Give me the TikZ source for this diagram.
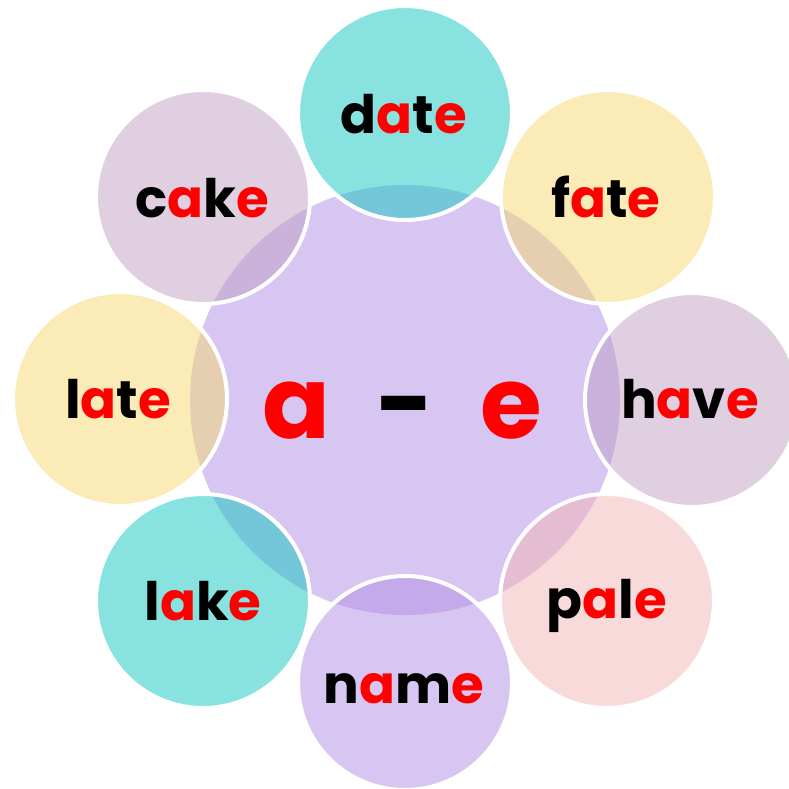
\documentclass[tikz,border=0pt]{standalone}
\usepackage{fontspec}
\setmainfont{Poppins}
\definecolor{cpurple}{RGB}{216,198,242}
\definecolor{cteal}{RGB}{17,199,193}
\definecolor{cyellow}{RGB}{245,215,111}
\definecolor{cmauve}{RGB}{191,159,195}
\definecolor{cpink}{RGB}{241,181,181}
\definecolor{cviolet}{RGB}{177,141,229}
\definecolor{vred}{RGB}{255,0,0}
\newcommand\vr[1]{\textcolor{vred}{#1}}
\begin{document}
\begin{tikzpicture}[x=1pt,y=-1pt,
  sat/.style={circle, minimum size=214pt, inner sep=0pt, draw=white, line width=4pt, fill opacity=0.5, draw opacity=1},
  word/.style={anchor=base, inner sep=0pt, text=black, font=\fontsize{53}{58}\selectfont\bfseries},
  big/.style={anchor=base, inner sep=0pt, font=\fontsize{100}{110}\selectfont\bfseries}]
\clip (0,0) rectangle (789,789);
\node[circle, minimum size=430pt, inner sep=0pt, fill=cpurple] (core) at (405,400) {};
\node[sat, fill=cteal]   (sdate) at (405,113) {};
\node[sat, fill=cyellow] (sfate) at (608,197) {};
\node[sat, fill=cmauve]  (shave) at (692,400) {};
\node[sat, fill=cpink]   (spale) at (607,601) {};
\node[sat, fill=cviolet] (sname) at (405,683) {};
\node[sat, fill=cteal]   (slake) at (203,601) {};
\node[sat, fill=cyellow] (slate) at (120,399) {};
\node[sat, fill=cmauve]  (scake) at (203,197) {};
\node[word] (wdate) at (404,133) {d\vr{a}t\vr{e}};
\node[word] (wfate) at (606,217) {f\vr{a}t\vr{e}};
\node[word] (whave) at (690,418) {h\vr{a}v\vr{e}};
\node[word] (wpale) at (607,618) {p\vr{a}l\vr{e}};
\node[word] (wname) at (404,703) {n\vr{a}m\vr{e}};
\node[word] (wlake) at (203,620) {l\vr{a}k\vr{e}};
\node[word] (wlate) at (118,418) {l\vr{a}t\vr{e}};
\node[word] (wcake) at (202,217) {c\vr{a}k\vr{e}};
\node[big, text=vred]  (ca) at (296,438) {a};
\node[big, text=black] (cdash) at (405,438) {-};
\node[big, text=vred]  (ce) at (511,438) {e};
\end{tikzpicture}
\end{document}
